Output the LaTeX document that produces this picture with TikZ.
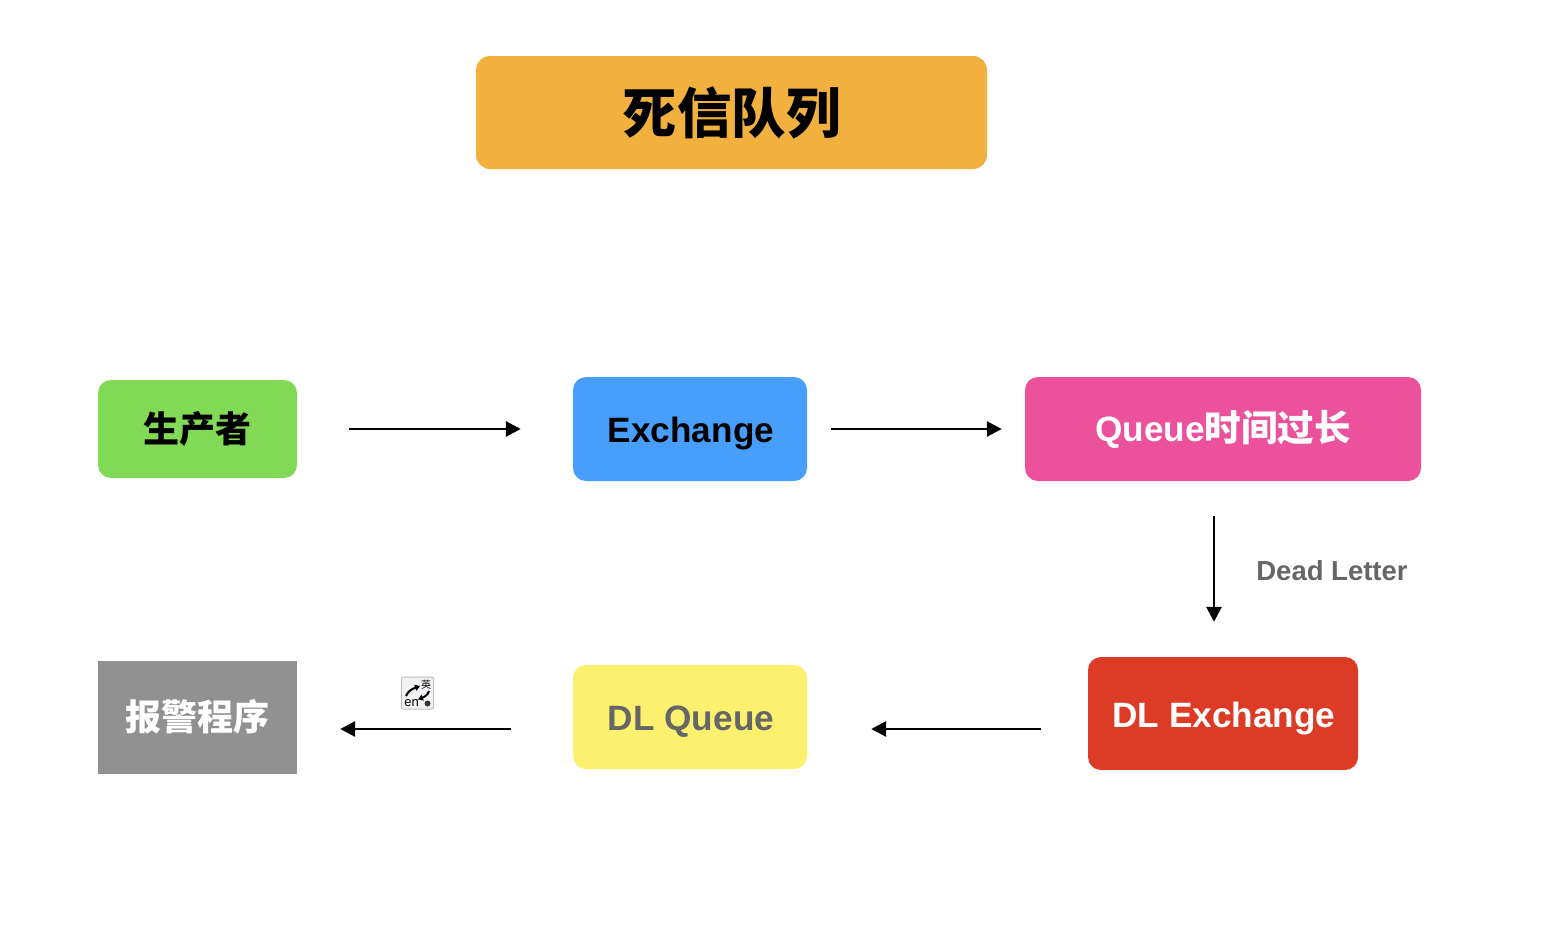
\documentclass[tikz,border=0pt]{standalone}
\usepackage{fontspec}
\setmainfont{Liberation Sans}
\newfontfamily\cjk{Noto Sans CJK SC}
\usetikzlibrary{arrows.meta,calc}
\definecolor{cTitle}{HTML}{F2B13E}
\definecolor{cGreen}{HTML}{81D956}
\definecolor{cBlue}{HTML}{479FFB}
\definecolor{cPink}{HTML}{EC519C}
\definecolor{cRed}{HTML}{DC3C26}
\definecolor{cYellow}{HTML}{FCF16F}
\definecolor{cGray}{HTML}{919191}
\definecolor{cDark}{HTML}{666666}
\definecolor{cIcon}{HTML}{F1F2F4}
\newcommand{\lowtext}[2]{\hspace*{2pt}\raisebox{-#1}[\height][\depth]{#2}}
\tikzset{
  box/.style={inner sep=0pt,rounded corners=#1,font=\fontsize{35.2}{40}\selectfont\bfseries},
  box/.default=13pt,
  flow/.style={draw=black,line width=2.8pt,-{Triangle[length=15pt,width=15pt]}},
}
\begin{document}
\begin{tikzpicture}[x=1pt,y=-1pt]
\useasboundingbox (0,0) rectangle (1549,926);
\fill[white] (0,0) rectangle (1549,926);
\node[box=14pt,fill=cTitle,text=black,minimum width=511pt,minimum height=113pt,font=\fontsize{54.5}{60}\selectfont\bfseries] (title) at (731.5,112.5) {\cjk 死信队列};
\node[box,fill=cGreen,text=black,minimum width=199pt,minimum height=98pt] (prod) at (197.5,429) {\fontsize{36}{40}\selectfont\cjk 生产者};
\node[box,fill=cBlue,text=black,minimum width=234pt,minimum height=104pt] (ex) at (690,429) {\lowtext{4.5pt}{Exchange}};
\node[box,fill=cPink,text=white,minimum width=396pt,minimum height=104pt] (q) at (1223,429) {Queue{\fontsize{36.5}{40}\selectfont\cjk 时间过长}};
\node[box,fill=cRed,text=white,minimum width=270pt,minimum height=113pt] (dlx) at (1223,713.5) {\lowtext{4.5pt}{DL Exchange}};
\node[box,fill=cYellow,text=cDark,minimum width=234pt,minimum height=104pt] (dlq) at (690,717) {\lowtext{4.5pt}{DL Queue}};
\node[inner sep=0pt,fill=cGray,text=white,minimum width=199pt,minimum height=113pt,font=\fontsize{36}{40}\selectfont\bfseries] (alarm) at (197.5,717) {\cjk 报警程序};
\node[inner sep=0pt,text=cDark,font=\fontsize{27.5}{30}\selectfont\bfseries] (dead) at (1332,571) {Dead Letter};
\draw[flow,shorten <=52pt,shorten >=52pt] (prod.east) -- (ex.west);
\draw[flow,shorten <=24pt,shorten >=23pt] (ex.east) -- (q.west);
\coordinate (qd) at ($(q.south)+(-9,0)$);
\coordinate (xu) at ($(dlx.north)+(-9,0)$);
\draw[flow,shorten <=35pt,shorten >=35pt] (qd) -- (xu);
\coordinate (xl) at (dlx.west |- 0,729);
\coordinate (qr) at (dlq.east |- 0,729);
\coordinate (ql) at (dlq.west |- 0,729);
\coordinate (ar) at (alarm.east |- 0,729);
\draw[flow,shorten <=47pt,shorten >=64pt] (xl) -- (qr);
\draw[flow,shorten <=62pt,shorten >=43pt] (ql) -- (ar);
% input-method icon
\node[draw=black!25,line width=1pt,fill=cIcon,rounded corners=2pt,minimum width=32pt,minimum height=32pt,inner sep=0pt] (icon) at (417.5,693) {};
\node[inner sep=0pt,font=\fontsize{13}{13}\selectfont] (ien) at (411.5,703) {en};
\node[inner sep=0pt,font=\fontsize{10}{10}\selectfont] (iying) at (426,685) {\cjk 英};
\fill[black!80] (427.5,703.5) circle (3pt);
\draw[line width=2pt,-{Triangle[length=5pt,width=6pt]}] (406,696) .. controls (408,691) and (412,689) .. (420,686);
\draw[line width=2pt,-{Triangle[length=5pt,width=6pt]}] (429,691) .. controls (428,695) and (424,697) .. (418,699.5);
\end{tikzpicture}
\end{document}
